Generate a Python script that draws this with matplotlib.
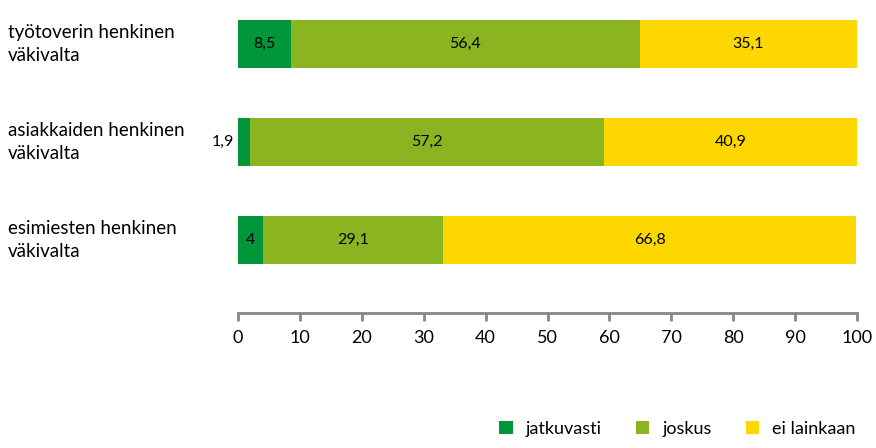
import matplotlib
matplotlib.use("Agg")
import matplotlib.pyplot as plt
import numpy as np

plt.rcParams['font.family'] = ['Lato', 'DejaVu Sans']

kategoriat = ["työtoverin henkinen\nväkivalta", "asiakkaiden henkinen\nväkivalta", "esimiesten henkinen\nväkivalta"]
jatkuvasti = [8.5, 1.9, 4.0]
joskus = [56.4, 57.2, 29.1]
ei_lainkaan = [35.1, 40.9, 66.8]
sarjat = ["jatkuvasti", "joskus", "ei lainkaan"]
varit = ["#009639", "#8AB520", "#FFD700"]

def muoto(v):
    s = ("%.1f" % v).rstrip('0').rstrip('.')
    return s.replace('.', ',')

fig = plt.figure(figsize=(8.76, 4.48), dpi=100)
ax = fig.add_axes([238/876, 1-313/448, (857-238)/876, 313/448])

y = np.arange(len(kategoriat))
vasen = np.zeros(len(kategoriat))
for nimi, arvot, vari in zip(sarjat, [jatkuvasti, joskus, ei_lainkaan], varit):
    ax.barh(y, arvot, left=vasen, height=0.48, color=vari, label=nimi)
    for i, v in enumerate(arvot):
        if v < 3:
            ax.text(vasen[i] - 0.7, y[i], muoto(v), ha='right', va='center', fontsize=11.5)
        else:
            ax.text(vasen[i] + v/2, y[i], muoto(v), ha='center', va='center', fontsize=11.5)
    vasen += np.array(arvot)

ax.set_xlim(0, 100)
ax.set_ylim(2.745, -0.449)
ax.set_xticks(np.arange(0, 101, 10))
ax.set_yticks([])
for s in ['top', 'right', 'left']:
    ax.spines[s].set_visible(False)
ax.spines['bottom'].set_color('#868686')
ax.spines['bottom'].set_linewidth(2)
ax.tick_params(axis='x', colors='#868686', width=2, length=6, labelsize=13, labelcolor='black', pad=6)

for i, k in enumerate(kategoriat):
    ax.text(8/876, y[i], k, transform=matplotlib.transforms.blended_transform_factory(fig.transFigure, ax.transData),
            ha='left', va='center', fontsize=13.5, linespacing=1.4)

fig.legend(loc='lower right', bbox_to_anchor=(0.995, -0.012), ncol=3, frameon=False, fontsize=13,
           handlelength=0.75, handleheight=0.75, columnspacing=1.9, handletextpad=0.7)

fig.savefig("out.png", dpi=100)
